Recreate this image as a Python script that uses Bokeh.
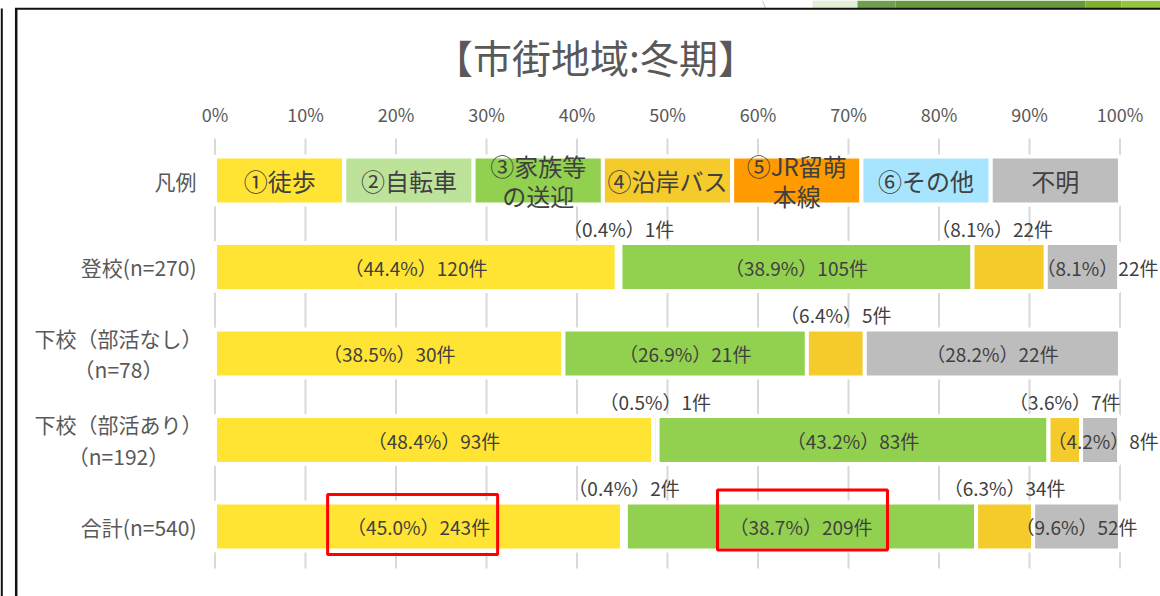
from bokeh.plotting import figure
from bokeh.models import ColumnDataSource, Range1d
from bokeh.embed import file_html
from bokeh.resources import INLINE
from bokeh.core.properties import value

# ---------------- data ----------------
title_text = "【市街地域:冬期】"
tick_values = [0, 10, 20, 30, 40, 50, 60, 70, 80, 90, 100]
tick_labels = ["0%", "10%", "20%", "30%", "40%", "50%", "60%", "70%", "80%", "90%", "100%"]

legend_row_label = "凡例"
legend_names = ["①徒歩", "②自転車", "③家族等\nの送迎", "④沿岸バス", "⑤JR留萌\n本線", "⑥その他", "不明"]
mode_colors = ["#FFE433", "#BDE39B", "#92D050", "#F5CB2B", "#FF9A00", "#A6E5FD", "#BDBDBD"]

row_labels = ["登校(n=270)", "下校（部活なし）\n（n=78）", "下校（部活あり）\n（n=192）", "合計(n=540)"]
n_values = [270, 78, 192, 540]

# share (%) per mode, one value per row
pct_walk = [44.4, 38.5, 48.4, 45.0]
pct_bike = [0.4, 0.0, 0.5, 0.4]
pct_family = [38.9, 26.9, 43.2, 38.7]
pct_bus = [8.1, 6.4, 3.6, 6.3]
pct_jr = [0.0, 0.0, 0.0, 0.0]
pct_other = [0.0, 0.0, 0.0, 0.0]
pct_unknown = [8.1, 28.2, 4.2, 9.6]

# counts (件) per mode, one value per row
cnt_walk = [120, 30, 93, 243]
cnt_bike = [1, 0, 1, 2]
cnt_family = [105, 21, 83, 209]
cnt_bus = [22, 5, 7, 34]
cnt_jr = [0, 0, 0, 0]
cnt_other = [0, 0, 0, 0]
cnt_unknown = [22, 22, 8, 52]

mode_pcts = [pct_walk, pct_bike, pct_family, pct_bus, pct_jr, pct_other, pct_unknown]
mode_cnts = [cnt_walk, cnt_bike, cnt_family, cnt_bus, cnt_jr, cnt_other, cnt_unknown]
UNKNOWN = 6

# highlighted labels (row index, mode index)
highlights = [(3, 0), (3, 2)]

# ---------------- layout ----------------
W, H = 1160, 596
ZERO_PX = 214.5        # canvas px of 0 %
PX_PER_PCT = 9.05
ROW0_PX = 180.0        # canvas px of legend row centre
ROW_STEP = 86.5

def dx(px):
    return (px - ZERO_PX) / PX_PER_PCT

def dy(py):
    return (py - ROW0_PX) / ROW_STEP

FONT = value("Noto Sans CJK JP")

p = figure(width=W, height=H, output_backend="svg", toolbar_location=None,
           x_range=Range1d(dx(0), dx(W)), y_range=Range1d(dy(H), dy(0)),
           x_axis_location=None, y_axis_location=None, min_border=0,
           outline_line_color=None, background_fill_color="white",
           border_fill_color="white")
p.grid.visible = False

# slide decoration (top strip)
p.quad(left=[dx(812), dx(857), dx(895), dx(1085), dx(1121)],
       right=[dx(857), dx(895), dx(1085), dx(1121), dx(W)],
       top=[dy(0)] * 5, bottom=[dy(7.5)] * 5,
       fill_color=["#E4EFD5", "#6FA04E", "#679A3C", "#7FB12E", "#95C53F"],
       line_color=None)
p.segment(x0=[dx(762)], y0=[dy(0)], x1=[dx(765)], y1=[dy(8)],
          line_color="#C8C8C8", line_width=1)

# gridlines
n_rows = len(row_labels)
p.segment(x0=tick_values, y0=[-0.486] * len(tick_values),
          x1=tick_values, y1=[n_rows + 0.486] * len(tick_values),
          line_color="#D9D9D9", line_width=2)

# tick labels
p.text(x=tick_values, y=[dy(113)] * len(tick_values), text=tick_labels,
       text_font=FONT, text_font_size="18px", text_color="#595959",
       text_align="center", text_baseline="middle")

# title
p.text(x=[dx(595)], y=[dy(55)], text=[title_text], text_font=FONT,
       text_font_size="39px", text_color="#595959",
       text_align="center", text_baseline="middle")

# bars
seg = dict(y=[], left=[], right=[], color=[])
n_modes = len(legend_names)
for i in range(n_modes):
    seg["y"].append(0)
    seg["left"].append(i * 100.0 / n_modes)
    seg["right"].append((i + 1) * 100.0 / n_modes)
    seg["color"].append(mode_colors[i])

in_lab = dict(x=[], y=[], text=[])
out_lab = dict(x=[], y=[], text=[])
nudge = {(0, 3): -17, (0, UNKNOWN): 15, (2, UNKNOWN): 3}
centers = {}
for r in range(n_rows):
    left = 0.0
    for k in range(n_modes):
        v = mode_pcts[k][r]
        if v <= 0:
            continue
        seg["y"].append(r + 1)
        seg["left"].append(left)
        seg["right"].append(left + v)
        seg["color"].append(mode_colors[k])
        c = left + v / 2
        centers[(r, k)] = c
        txt = f"（{v:.1f}%）{mode_cnts[k][r]}件"
        cx = c + nudge.get((r, k), 0) / PX_PER_PCT
        if k == UNKNOWN or v >= 10:
            in_lab["x"].append(cx)
            in_lab["y"].append(r + 1)
            in_lab["text"].append(txt)
        else:
            out_lab["x"].append(cx)
            out_lab["y"].append(r + 1 - 39 / ROW_STEP)
            out_lab["text"].append(txt)
        left += v

BORDER = 4
p.hbar(y="y", left="left", right="right", height=(44 + BORDER) / ROW_STEP,
       fill_color="color", line_color="white", line_width=BORDER,
       source=ColumnDataSource(seg))

# legend names in the legend row
p.text(x=[(i + 0.5) * 100.0 / n_modes for i in range(n_modes)], y=[0] * n_modes,
       text=legend_names, text_font=FONT, text_font_size="24px",
       text_color="#404040", text_align="center", text_baseline="middle",
       text_line_height=0.86)

# data labels
p.text(x="x", y="y", text="text", source=ColumnDataSource(in_lab),
       text_font=FONT, text_font_size="19px", text_color="#404040",
       text_align="center", text_baseline="middle")
p.text(x="x", y="y", text="text", source=ColumnDataSource(out_lab),
       text_font=FONT, text_font_size="19px", text_color="#404040",
       text_align="center", text_baseline="middle")

# category labels
all_labels = [legend_row_label] + row_labels
single = dict(x=[], y=[], text=[])
multi = dict(x=[], y=[], text=[])
for i, lab in enumerate(all_labels):
    d = multi if "\n" in lab else single
    d["x"].append(dx(118) if "\n" in lab else dx(196))
    d["y"].append(i)
    d["text"].append(lab)
p.text(x="x", y="y", text="text", source=ColumnDataSource(single),
       text_font=FONT, text_font_size="21px", text_color="#595959",
       text_align="right", text_baseline="middle")
p.text(x="x", y="y", text="text", source=ColumnDataSource(multi),
       text_font=FONT, text_font_size="21px", text_color="#595959",
       text_align="center", text_baseline="middle", text_line_height=1.05)

# red highlight boxes
hx_nudge = [-6, 1.5]
hy_nudge = [-2, -6.5]
p.rect(x=[centers[h] + hx_nudge[j] / PX_PER_PCT for j, h in enumerate(highlights)],
       y=[h[0] + 1 + hy_nudge[j] / ROW_STEP for j, h in enumerate(highlights)],
       width=170, height=60, width_units="screen", height_units="screen",
       fill_color=None, line_color="#FF0000", line_width=3)

# slide frame lines
p.segment(x0=[dx(15.7), dx(14.5), dx(1.2)], y0=[dy(8), dy(8.2), dy(8)],
          x1=[dx(15.7), dx(W), dx(1.2)], y1=[dy(H), dy(8.2), dy(H)],
          line_color="#111111", line_width=[2.5, 2, 2.2])

open("out.html", "w").write(file_html(p, INLINE))
